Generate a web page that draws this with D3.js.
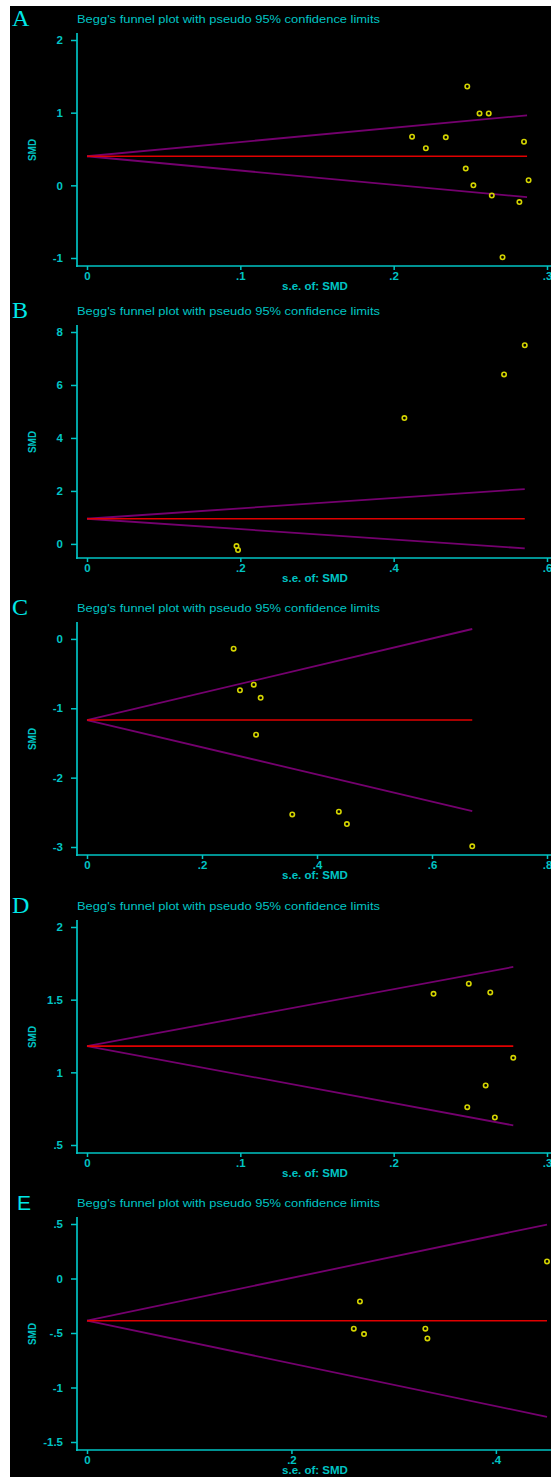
<!DOCTYPE html>
<html>
<head>
<meta charset="utf-8">
<script src="https://cdn.jsdelivr.net/npm/d3@7"></script>
<style>
  body { margin: 0; background: #fff; }
  svg { display: block; }
</style>
</head>
<body>
<div id="chart"></div>
<script>

// panel letters and titles
var letters = ["A", "B", "C", "D", "E"];
var title = "Begg's funnel plot with pseudo 95% confidence limits";

// study points (se, SMD)
var seA  = [0.248, 0.256, 0.262, 0.212, 0.234, 0.221, 0.285, 0.247, 0.252, 0.264, 0.282, 0.288, 0.271];
var smdA = [1.36, 0.99, 0.99, 0.67, 0.66, 0.51, 0.60, 0.23, 0.00, -0.14, -0.23, 0.07, -0.99];

var seB  = [0.571, 0.544, 0.414, 0.195, 0.197];
var smdB = [7.50, 6.40, 4.75, -0.08, -0.23];

var seC  = [0.255, 0.266, 0.290, 0.302, 0.294, 0.357, 0.438, 0.452, 0.670];
var smdC = [-0.14, -0.74, -0.66, -0.85, -1.38, -2.53, -2.49, -2.67, -2.99];

var seD  = [0.226, 0.249, 0.263, 0.278, 0.260, 0.248, 0.266];
var smdD = [1.54, 1.61, 1.55, 1.10, 0.91, 0.76, 0.69];

var seE  = [0.450, 0.267, 0.261, 0.271, 0.331, 0.333];
var smdE = [0.157, -0.21, -0.46, -0.51, -0.46, -0.55];

// pooled estimate and the ends of the pseudo 95% limits
var pooled   = [0.40, 0.95, -1.17, 1.18, -0.387];
var limitSe  = [0.287, 0.571, 0.670, 0.278, 0.450];
var upperEnd = [0.963, 2.07, 0.143, 1.725, 0.495];
var lowerEnd = [-0.163, -0.17, -2.483, 0.635, -1.269];

// ticks
var xTicksA = [0, 0.1, 0.2, 0.3], xLabelsA = ["0", ".1", ".2", ".3"];
var xTicksB = [0, 0.2, 0.4, 0.6], xLabelsB = ["0", ".2", ".4", ".6"];
var xTicksC = [0, 0.2, 0.4, 0.6, 0.8], xLabelsC = ["0", ".2", ".4", ".6", ".8"];
var xTicksD = [0, 0.1, 0.2, 0.3], xLabelsD = ["0", ".1", ".2", ".3"];
var xTicksE = [0, 0.2, 0.4], xLabelsE = ["0", ".2", ".4"];

var yTicksA = [-1, 0, 1, 2], yLabelsA = ["-1", "0", "1", "2"];
var yTicksB = [0, 2, 4, 6, 8], yLabelsB = ["0", "2", "4", "6", "8"];
var yTicksC = [-3, -2, -1, 0], yLabelsC = ["-3", "-2", "-1", "0"];
var yTicksD = [0.5, 1, 1.5, 2], yLabelsD = [".5", "1", "1.5", "2"];
var yTicksE = [-1.5, -1, -0.5, 0, 0.5], yLabelsE = ["-1.5", "-1", "-.5", "0", ".5"];

var panels = [
  {se: seA, smd: smdA, xt: xTicksA, xl: xLabelsA, yt: yTicksA, yl: yLabelsA},
  {se: seB, smd: smdB, xt: xTicksB, xl: xLabelsB, yt: yTicksB, yl: yLabelsB},
  {se: seC, smd: smdC, xt: xTicksC, xl: xLabelsC, yt: yTicksC, yl: yLabelsC},
  {se: seD, smd: smdD, xt: xTicksD, xl: xLabelsD, yt: yTicksD, yl: yLabelsD},
  {se: seE, smd: smdE, xt: xTicksE, xl: xLabelsE, yt: yTicksE, yl: yLabelsE}
];
panels.forEach(function (p, i) {
  p.letter = letters[i];
  p.pooled = pooled[i];
  p.limitSe = limitSe[i];
  p.upper = upperEnd[i];
  p.lower = lowerEnd[i];
});

var W = 551, H = 1477;
var offsets = [0, 292, 589, 887, 1184];   // top of each panel
var cyan = "#00c4c4";
var font = "'Liberation Sans', Arial, sans-serif";

var svg = d3.select("#chart").append("svg")
    .attr("width", W)
    .attr("height", H);

svg.append("rect").attr("width", W).attr("height", H).attr("fill", "#fff");
svg.append("rect")
    .attr("x", 10).attr("y", 6)
    .attr("width", W - 10).attr("height", H - 6)
    .attr("fill", "#000");

panels.forEach(function (p, i) {
    var oy = offsets[i];
    var g = svg.append("g").attr("transform", "translate(0," + oy + ")");

    var xMax = d3.max(p.xt.concat(p.se).concat([p.limitSe]));
    var x = d3.scaleLinear().domain([0, xMax]).range([87, 547]);

    var yVals = p.yt.concat(p.smd).concat([p.upper, p.lower]);
    var y = d3.scaleLinear().domain(d3.extent(yVals)).range([258, 40]);

    // panel letter
    g.append("text")
        .attr("x", i == 4 ? 17 : 12)
        .attr("y", 26)
        .attr("fill", "#00e8e8")
        .attr("font-family", i == 4 ? font : "'Liberation Serif', 'Times New Roman', serif")
        .attr("font-size", i == 4 ? 21 : 24)
        .text(p.letter);

    // title
    g.append("text")
        .attr("x", 77)
        .attr("y", 23)
        .attr("fill", cyan)
        .attr("font-family", font)
        .attr("font-size", 11)
        .attr("textLength", 303)
        .attr("lengthAdjust", "spacingAndGlyphs")
        .text(title);

    // axes
    var yAxis = d3.axisLeft(y)
        .tickValues(p.yt)
        .tickSize(6)
        .tickPadding(8)
        .tickFormat(function (d, k) { return p.yl[k]; });
    var xAxis = d3.axisBottom(x)
        .tickValues(p.xt)
        .tickSize(4)
        .tickPadding(2)
        .tickFormat(function (d, k) { return p.xl[k]; });

    var ya = g.append("g").attr("transform", "translate(77,0)").call(yAxis);
    ya.select(".domain").remove();
    g.append("line")
        .attr("x1", 77).attr("x2", 77)
        .attr("y1", 33).attr("y2", 267)
        .attr("stroke", cyan).attr("stroke-width", 1.7);

    var xa = g.append("g").attr("transform", "translate(0,266)").call(xAxis);
    xa.select(".domain").remove();
    g.append("line")
        .attr("x1", 76).attr("x2", W)
        .attr("y1", 266).attr("y2", 266)
        .attr("stroke", cyan).attr("stroke-width", 1.7);

    [ya, xa].forEach(function (a) {
        a.selectAll(".tick line").attr("stroke", cyan).attr("stroke-width", 1.5);
        a.selectAll(".tick text")
            .attr("fill", cyan)
            .attr("font-family", font)
            .attr("font-weight", "bold")
            .attr("font-size", 11.5);
    });

    // axis titles
    g.append("text")
        .attr("x", 315)
        .attr("y", 290)
        .attr("text-anchor", "middle")
        .attr("fill", cyan)
        .attr("font-family", font)
        .attr("font-weight", "bold")
        .attr("font-size", 11.5)
        .text("s.e. of: SMD");

    g.append("text")
        .attr("transform", "translate(36,150) rotate(-90)")
        .attr("text-anchor", "middle")
        .attr("fill", cyan)
        .attr("font-family", font)
        .attr("font-weight", "bold")
        .attr("font-size", 10)
        .text("SMD");

    // pseudo 95% limits
    var line = d3.line().x(function (d) { return x(d[0]); }).y(function (d) { return y(d[1]); });
    g.append("path")
        .datum([[0, p.pooled], [p.limitSe, p.upper]])
        .attr("d", line)
        .attr("fill", "none").attr("stroke", "#74006e").attr("stroke-width", 1.8);
    g.append("path")
        .datum([[0, p.pooled], [p.limitSe, p.lower]])
        .attr("d", line)
        .attr("fill", "none").attr("stroke", "#74006e").attr("stroke-width", 1.8);
    g.append("path")
        .datum([[0, p.pooled], [p.limitSe, p.pooled]])
        .attr("d", line)
        .attr("fill", "none").attr("stroke", "#e00000").attr("stroke-width", 1.6);

    // studies
    g.selectAll("circle.pt")
        .data(p.se.map(function (s, k) { return [s, p.smd[k]]; }))
        .enter().append("circle")
        .attr("class", "pt")
        .attr("cx", function (d) { return x(d[0]); })
        .attr("cy", function (d) { return y(d[1]); })
        .attr("r", 2.2)
        .attr("fill", "none")
        .attr("stroke", "#d4d400")
        .attr("stroke-width", 1.6);
});

</script>
</body>
</html>
